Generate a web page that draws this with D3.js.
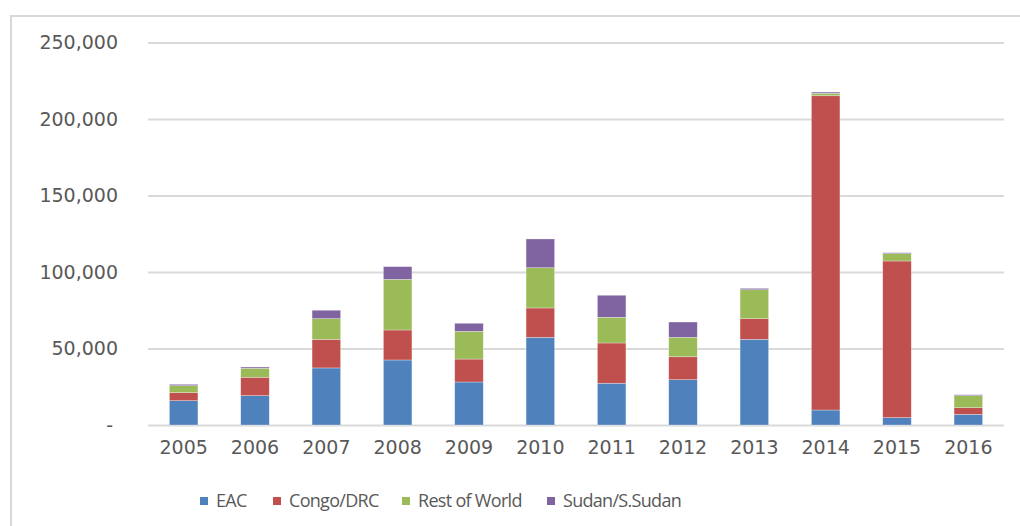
<!DOCTYPE html>
<html>
<head>
<meta charset="utf-8">
<script src="https://cdn.jsdelivr.net/npm/d3@7"></script>
<style>
  body { margin: 0; background: #fff; }
  text { fill: #595959; }
</style>
</head>
<body>
<div id="chart"></div>
<script>
// Data
const years = ["2005", "2006", "2007", "2008", "2009", "2010", "2011", "2012", "2013", "2014", "2015", "2016"];
const eac = [15900, 19200, 37300, 42500, 28100, 57300, 27300, 29600, 56000, 9800, 4800, 7000];
const congo = [5200, 12000, 18700, 19600, 15000, 19200, 26300, 15000, 13500, 205400, 102400, 4300];
const restOfWorld = [4600, 5900, 13500, 33100, 18100, 26300, 16800, 12700, 18900, 1600, 4800, 7900];
const sudan = [900, 800, 5500, 8300, 5300, 18800, 14400, 10000, 900, 800, 600, 600];
const seriesNames = ["EAC", "Congo/DRC", "Rest of World", "Sudan/S.Sudan"];
const seriesColors = ["#4f81bd", "#c0504d", "#9bbb59", "#8064a2"];
const yTicks = [0, 50000, 100000, 150000, 200000, 250000];

function draw() {
  // Dimensions
  const dimensions = {
    width: 1020,
    height: 526,
    left: 148,
    right: 1004,
    top: 42.5,
    bottom: 425,
  };

  const rows = years.map((year, i) => ({
    year,
    "EAC": eac[i],
    "Congo/DRC": congo[i],
    "Rest of World": restOfWorld[i],
    "Sudan/S.Sudan": sudan[i],
  }));

  const stacked = d3.stack().keys(seriesNames)(rows);

  const svg = d3
    .select("#chart")
    .append("svg")
    .attr("width", dimensions.width)
    .attr("height", dimensions.height);

  // Frame
  svg
    .append("path")
    .attr("d", `M11,${dimensions.height} L11,16 L${dimensions.width},16`)
    .attr("fill", "none")
    .attr("stroke", "#d9d9d9")
    .attr("stroke-width", 2);

  // Scales
  const xScale = d3
    .scaleBand()
    .domain(years)
    .range([dimensions.left, dimensions.right])
    .paddingInner(0.6)
    .paddingOuter(0.3);

  const yScale = d3
    .scaleLinear()
    .domain([0, 250000])
    .range([dimensions.bottom, dimensions.top]);

  // Gridlines
  const grid = svg
    .append("g")
    .attr("transform", `translate(${dimensions.left}, 0)`)
    .call(
      d3
        .axisLeft(yScale)
        .tickValues(yTicks)
        .tickSize(-(dimensions.right - dimensions.left))
        .tickFormat("")
    );
  grid.select(".domain").remove();
  grid.selectAll("line").attr("stroke", "#d9d9d9").attr("stroke-width", 2);

  // Y labels
  const fmt = d3.format(",");
  const yAxisG = svg
    .append("g")
    .attr("transform", "translate(118, 0)")
    .call(
      d3
        .axisLeft(yScale)
        .tickValues(yTicks)
        .tickSize(0)
        .tickPadding(0)
        .tickFormat((d) => (d === 0 ? "-" : fmt(d)))
    );
  yAxisG.select(".domain").remove();
  yAxisG
    .selectAll("text")
    .attr("font-family", "DejaVu Sans, sans-serif")
    .attr("font-size", 19)
    .attr("fill", "#595959")
    .attr("dx", (d) => (d === 0 ? -5 : 0));

  // Bars
  svg
    .append("g")
    .selectAll("g")
    .data(stacked)
    .join("g")
    .attr("fill", (d, i) => seriesColors[i])
    .selectAll("rect")
    .data((d) => d)
    .join("rect")
    .attr("x", (d) => xScale(d.data.year))
    .attr("width", xScale.bandwidth())
    .attr("y", (d) => yScale(d[1]))
    .attr("height", (d) => yScale(d[0]) - yScale(d[1]))
    .attr("stroke", "#ffffff")
    .attr("stroke-opacity", 0.5)
    .attr("stroke-width", 0.6);

  // X labels
  const xAxisG = svg
    .append("g")
    .attr("transform", `translate(0, ${dimensions.bottom})`)
    .call(d3.axisBottom(xScale).tickSize(0).tickPadding(16));
  xAxisG.select(".domain").remove();
  xAxisG
    .selectAll("text")
    .attr("font-family", "DejaVu Sans, sans-serif")
    .attr("font-size", 19)
    .attr("fill", "#595959");

  // Legend
  const legendX = [200, 273, 402, 547];
  const legend = svg
    .append("g")
    .selectAll("g")
    .data(seriesNames)
    .join("g")
    .attr("transform", (d, i) => `translate(${legendX[i]}, 497)`);

  legend
    .append("rect")
    .attr("width", 8)
    .attr("height", 8)
    .attr("fill", (d, i) => seriesColors[i]);

  legend
    .append("text")
    .attr("x", 16)
    .attr("y", 4)
    .attr("dy", "0.35em")
    .attr("font-family", "Open Sans, sans-serif")
    .attr("font-size", 18)
    .attr("letter-spacing", -0.7)
    .attr("fill", "#595959")
    .text((d) => d);
}

draw();
</script>
</body>
</html>
